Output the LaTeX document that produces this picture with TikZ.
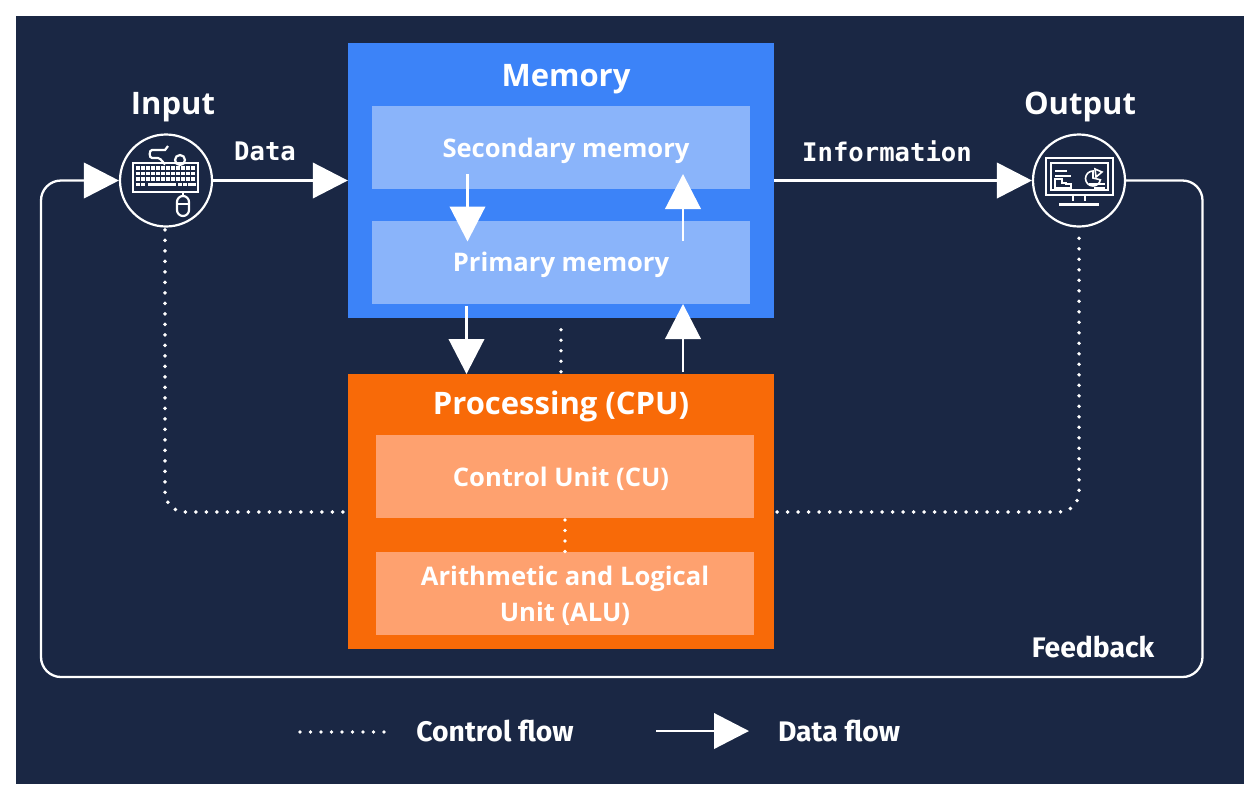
\documentclass[tikz,border=0pt]{standalone}
\usepackage{fontspec}
\setmainfont{Open Sans}
\newfontfamily\labelfont{Fira Sans}
\setmonofont{DejaVu Sans Mono}
\usetikzlibrary{arrows.meta}

\definecolor{navy}{HTML}{1A2744}
\definecolor{memblue}{HTML}{3C83F8}
\definecolor{memlight}{HTML}{8AB4FA}
\definecolor{cpuorange}{HTML}{F86A08}
\definecolor{cpulight}{HTML}{FEA16F}

\tikzset{
    box/.style={rectangle, inner sep=0pt, minimum width=426pt, minimum height=275pt},
    innerbox/.style={rectangle, inner sep=0pt, minimum width=378pt, minimum height=83pt},
    title/.style={text=white, font=\bfseries\fontsize{31}{36}\selectfont},
    boxlabel/.style={text=white, align=center, font=\bfseries\fontsize{25.6}{36}\selectfont},
    flowlabel/.style={text=white, font=\labelfont\bfseries\fontsize{28.3}{30}\selectfont},
    monolabel/.style={text=white, font=\ttfamily\bfseries\fontsize{25.6}{28}\selectfont},
    iconcircle/.style={circle, draw=white, line width=2.2pt, inner sep=0pt, minimum size=92pt},
    icon/.style={draw=white, line width=2.2pt},
    dataflow/.style={white, line width=2.3pt, -{Triangle[length=35pt, width=35.5pt]}},
    feedback/.style={dataflow, rounded corners=20pt},
    controlflow/.style={white, line width=3.9pt, line cap=round, dash pattern=on 0pt off 10.5pt},
}

\begin{document}
\begin{tikzpicture}[x=1pt, y=-1pt]
    % Page and background
    \useasboundingbox (0,0) rectangle (1255,796);
    \fill[white] (0,0) rectangle (1255,796);
    \fill[navy] (16,16) rectangle (1244,784);

    % Main boxes
    \node[box, fill=memblue] (memory) at (561,180.5) {};
    \node[box, fill=cpuorange] (cpu) at (561,511.5) {};
    \node[innerbox, fill=memlight] (secondary) at (561,147.5) {};
    \node[innerbox, fill=memlight] (primary) at (561,262.5) {};
    \node[innerbox, fill=cpulight] (cu) at (565,476.5) {};
    \node[innerbox, fill=cpulight] (alu) at (565,593.5) {};

    % Box labels
    \node[title] (memorytitle) at (566,79) {Memory};
    \node[title] (cputitle) at (561,406) {Processing (CPU)};
    \node[boxlabel] (secondarylabel) at (566,150.5) {Secondary memory};
    \node[boxlabel] (primarylabel) at (561,264.5) {Primary memory};
    \node[boxlabel] (culabel) at (561,479) {Control Unit (CU)};
    \node[boxlabel] (alulabel) at (565,596) {Arithmetic and Logical\\Unit (ALU)};

    % Input and output
    \node[iconcircle] (input) at (166,180.5) {};
    \node[iconcircle] (output) at (1079,180.5) {};
    \node[title] (inputtitle) at (173,107) {Input};
    \node[title] (outputtitle) at (1080,107) {Output};

    % Keyboard icon
    \begin{scope}[shift={(166,181)}]
        \draw[icon] (-33,-18) rectangle (32,11);
        \foreach \row in {-13,-7.5,-2}
            \foreach \col in {-28,-23,...,28}
                \fill[white] (\col-1.6,\row-1.6) rectangle (\col+1.6,\row+1.6);
        \foreach \col in {-28,-23,14,19,24,28}
            \fill[white] (\col-1.6,2) rectangle (\col+1.6,5.2);
        \fill[white] (-18,2) rectangle (10,5.2);
        \draw[icon] (-1,-18) to[out=-90,in=0] (-8,-23) -- (-14,-23)
            to[out=180,in=180] (-14,-31) -- (-1,-31) -- (2,-35);
        \draw[icon] (14,-21) circle (5pt);
        \draw[icon, rounded corners=6pt] (11,15) rectangle (23,35);
        \draw[icon] (17,11) -- (17,15);
        \draw[icon] (11,23) -- (23,23);
    \end{scope}

    % Monitor icon
    \begin{scope}[shift={(1079,181)}]
        \draw[icon] (-33,-23) rectangle (34,14);
        \draw[icon, line width=1.2pt] (-28,-18) rectangle (29,9);
        \draw[icon] (-6,14) -- (-6,20) (6,14) -- (6,20);
        \draw[icon, line width=3pt] (-20,23) -- (20,23);
        \draw[icon, line width=1.6pt] (-24,-10) -- (-12,-10) (-24,-5) -- (-8,-5);
        \draw[icon, line width=1.6pt] (-24,7) |- (-17,-2) |- (-13,2) |- (-8,3) -- (-8,7) -- cycle;
        \draw[icon, line width=1.6pt] (14,-10) arc (90:350:7.5pt) -- (14,-3) -- cycle;
        \draw[icon, line width=1.6pt] (16,-12) -- (23,-9) -- (17,-4) -- cycle;
        \draw[icon, line width=1.6pt] (10,3) -- (26,3) (15,7) -- (26,7);
    \end{scope}

    % Data flow arrows
    \coordinate (secondarydown) at (467.5,174);
    \coordinate (primarydown) at (467.5,241.5);
    \coordinate (primaryup) at (683,241);
    \coordinate (secondaryup) at (683,174);
    \coordinate (memorydown) at (466.5,306);
    \coordinate (cpudown) at (466.5,374);
    \coordinate (cpuup) at (683,372);
    \coordinate (memoryup) at (683,304);
    \draw[dataflow] (input) -- (memory);
    \draw[dataflow] (memory) -- (output);
    \draw[dataflow] (secondarydown) -- (primarydown);
    \draw[dataflow] (primaryup) -- (secondaryup);
    \draw[dataflow] (memorydown) -- (cpudown);
    \draw[dataflow] (cpuup) -- (memoryup);
    \draw[feedback] (output.east) -- (1202.5,180.5) -- (1202.5,677) -- (41,677) -- (41,180.5) -- (input.west);

    % Control flow
    \coordinate (memorydots) at (561,329.7);
    \coordinate (cpudots) at (561,372);
    \coordinate (cutop) at (565,520);
    \coordinate (alutop) at (565,552);
    \draw[controlflow] (memorydots) -- (cpudots);
    \draw[controlflow] (cutop) -- (alutop);
    \draw[controlflow, rounded corners=20pt] (165,229.8) -- (165,512) -- (344,512);
    \draw[controlflow, rounded corners=20pt] (1079,238.3) -- (1079,512) -- (776,512);

    % Flow labels
    \node[monolabel] (datalabel) at (265,151) {Data};
    \node[monolabel] (infolabel) at (887,151) {Information};
    \node[flowlabel] (feedbacklabel) at (1093,647) {Feedback};

    % Legend
    \coordinate (dotsstart) at (300,732);
    \coordinate (dotsend) at (385,732);
    \coordinate (arrowstart) at (656,731);
    \coordinate (arrowend) at (749,731);
    \draw[controlflow] (dotsstart) -- (dotsend);
    \draw[dataflow] (arrowstart) -- (arrowend);
    \node[flowlabel] (controllabel) at (495,731) {Control flow};
    \node[flowlabel] (datalegend) at (839,731) {Data flow};
\end{tikzpicture}
\end{document}
